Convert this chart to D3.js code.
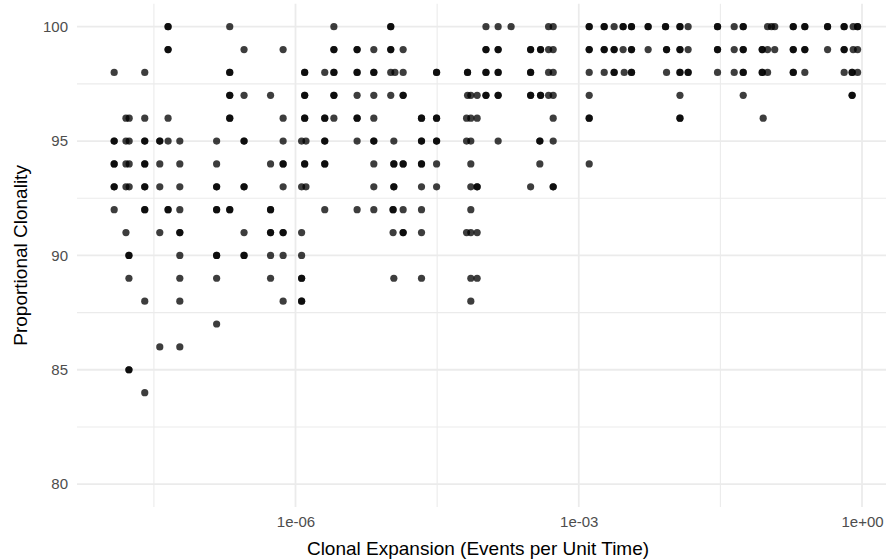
<!DOCTYPE html>
<meta charset="utf-8">
<script src="https://d3js.org/d3.v7.min.js"></script>
<style>
body { margin: 0; background: #fff; }
text { font-family: "Liberation Sans", Arial, Helvetica, sans-serif; }
</style>
<div id="chart"></div>
<script>
// proportional clonality levels and the expansion rates seen at each level
const clonality = [100, 99, 98, 97, 96, 95, 94, 93, 92, 91, 90, 89, 88, 87, 86, 85, 84];
const expansion = [
  [4.47e-8, 4.47e-8, 2.01e-7, 2.55e-6, 1.02e-5, 1.02e-5, 1.04e-4, 1.40e-4, 1.92e-4, 4.79e-4, 5.36e-4, 1.29e-3, 1.29e-3, 1.86e-3, 1.86e-3, 2.37e-3, 2.95e-3, 2.95e-3, 3.62e-3, 3.62e-3, 5.43e-3, 5.43e-3, 8.30e-3, 8.30e-3, 1.18e-2, 1.18e-2, 1.44e-2, 2.95e-2, 2.95e-2, 4.43e-2, 5.52e-2, 5.52e-2, 0.100, 0.110, 0.119, 0.187, 0.187, 0.248, 0.248, 0.432, 0.432, 0.647, 0.647, 0.807, 0.898, 0.898],
  [4.47e-8, 4.47e-8, 2.85e-7, 7.39e-7, 2.55e-6, 2.55e-6, 4.49e-6, 4.49e-6, 6.75e-6, 1.02e-5, 1.02e-5, 1.38e-5, 1.04e-4, 1.04e-4, 1.40e-4, 1.40e-4, 3.09e-4, 3.09e-4, 3.94e-4, 3.94e-4, 4.79e-4, 5.36e-4, 1.29e-3, 1.29e-3, 1.86e-3, 1.86e-3, 2.37e-3, 2.37e-3, 2.95e-3, 3.62e-3, 3.62e-3, 5.43e-3, 8.51e-3, 8.51e-3, 1.18e-2, 1.18e-2, 1.44e-2, 2.95e-2, 2.95e-2, 4.43e-2, 5.52e-2, 5.52e-2, 8.77e-2, 8.77e-2, 0.100, 0.119, 0.187, 0.187, 0.248, 0.248, 0.432, 0.647, 0.647, 0.807, 0.898],
  [1.2e-8, 2.53e-8, 2.01e-7, 2.01e-7, 1.25e-6, 1.25e-6, 2.04e-6, 2.55e-6, 2.55e-6, 4.49e-6, 4.49e-6, 6.75e-6, 6.75e-6, 1.02e-5, 1.13e-5, 1.38e-5, 3.12e-5, 3.12e-5, 6.64e-5, 6.64e-5, 1.04e-4, 1.04e-4, 1.40e-4, 1.40e-4, 3.09e-4, 3.09e-4, 4.79e-4, 5.36e-4, 1.29e-3, 1.86e-3, 2.37e-3, 2.37e-3, 3.03e-3, 3.62e-3, 3.62e-3, 8.51e-3, 1.18e-2, 1.18e-2, 1.44e-2, 1.44e-2, 2.95e-2, 4.43e-2, 5.52e-2, 5.52e-2, 8.77e-2, 8.77e-2, 0.100, 0.187, 0.187, 0.248, 0.647, 0.786, 0.786, 0.898],
  [2.01e-7, 2.01e-7, 2.85e-7, 5.44e-7, 1.25e-6, 1.25e-6, 2.55e-6, 2.55e-6, 4.49e-6, 6.75e-6, 1.02e-5, 1.38e-5, 1.38e-5, 6.64e-5, 7.19e-5, 8.39e-5, 1.04e-4, 1.04e-4, 1.40e-4, 1.40e-4, 3.09e-4, 3.09e-4, 3.94e-4, 3.94e-4, 4.79e-4, 5.36e-4, 1.29e-3, 1.18e-2, 5.52e-2, 0.786, 0.786],
  [1.6e-8, 1.73e-8, 2.53e-8, 4.47e-8, 2.01e-7, 2.01e-7, 7.39e-7, 1.25e-6, 1.25e-6, 2.04e-6, 2.04e-6, 2.55e-6, 4.49e-6, 4.49e-6, 6.75e-6, 2.16e-5, 2.16e-5, 3.12e-5, 3.12e-5, 6.48e-5, 7.19e-5, 8.39e-5, 5.36e-4, 1.29e-3, 1.29e-3, 1.18e-2, 1.18e-2, 8.98e-2],
  [1.2e-8, 1.2e-8, 1.6e-8, 1.73e-8, 2.53e-8, 2.53e-8, 3.65e-8, 3.65e-8, 4.47e-8, 5.95e-8, 1.46e-7, 2.85e-7, 2.85e-7, 7.39e-7, 1.16e-6, 1.29e-6, 2.04e-6, 2.04e-6, 4.49e-6, 6.75e-6, 6.75e-6, 1.10e-5, 2.16e-5, 2.16e-5, 3.12e-5, 3.12e-5, 6.48e-5, 7.19e-5, 1.40e-4, 3.87e-4, 3.87e-4, 5.36e-4],
  [1.2e-8, 1.2e-8, 1.6e-8, 1.73e-8, 2.53e-8, 2.53e-8, 3.65e-8, 5.95e-8, 1.46e-7, 5.44e-7, 7.39e-7, 7.39e-7, 1.25e-6, 1.25e-6, 2.04e-6, 2.04e-6, 6.75e-6, 1.10e-5, 1.10e-5, 1.38e-5, 1.38e-5, 2.16e-5, 2.16e-5, 3.12e-5, 7.19e-5, 3.87e-4, 1.29e-3],
  [1.2e-8, 1.2e-8, 1.6e-8, 1.73e-8, 2.53e-8, 2.53e-8, 3.65e-8, 5.95e-8, 1.46e-7, 1.46e-7, 2.85e-7, 2.85e-7, 7.39e-7, 1.16e-6, 1.29e-6, 6.75e-6, 1.10e-5, 1.10e-5, 2.16e-5, 3.12e-5, 7.19e-5, 8.39e-5, 8.39e-5, 3.09e-4, 5.36e-4, 5.36e-4],
  [1.2e-8, 2.53e-8, 2.53e-8, 4.47e-8, 4.47e-8, 5.95e-8, 1.46e-7, 1.46e-7, 2.01e-7, 2.01e-7, 5.44e-7, 5.44e-7, 2.04e-6, 4.49e-6, 6.75e-6, 1.08e-5, 1.08e-5, 1.38e-5, 2.16e-5, 7.19e-5],
  [1.6e-8, 3.65e-8, 5.95e-8, 5.95e-8, 2.85e-7, 5.44e-7, 5.44e-7, 7.39e-7, 7.39e-7, 1.16e-6, 1.08e-5, 1.38e-5, 1.38e-5, 2.16e-5, 6.48e-5, 7.19e-5, 8.39e-5],
  [1.72e-8, 1.72e-8, 5.95e-8, 1.46e-7, 1.46e-7, 2.85e-7, 2.85e-7, 5.44e-7, 7.39e-7, 1.16e-6],
  [1.72e-8, 5.95e-8, 1.46e-7, 5.44e-7, 1.16e-6, 1.16e-6, 1.10e-5, 2.16e-5, 7.19e-5, 8.39e-5],
  [2.53e-8, 5.95e-8, 7.39e-7, 1.16e-6, 1.16e-6, 7.19e-5],
  [1.46e-7],
  [3.65e-8, 5.95e-8],
  [1.72e-8, 1.72e-8],
  [2.53e-8]
];

const xTicks = [1e-6, 1e-3, 1];
const xTickLabels = ["1e-06", "1e-03", "1e+00"];
const xMinor = [3.162e-8, 3.162e-5, 3.162e-2];
const yTicks = [80, 85, 90, 95, 100];
const yMinor = [82.5, 87.5, 92.5, 97.5];

const W = 886, H = 560;
const panel = {left: 77, right: 879, top: 3.8, bottom: 507};

var points = [];
clonality.forEach(function(c, i) {
  expansion[i].forEach(function(e) { points.push({x: e, y: c}); });
});

// log x scale, left edge padded 5% of the data span in log space
var lx = d3.extent(points, d => Math.log10(d.x));
var pad = (lx[1] - lx[0]) * 0.05;
var x = d3.scaleLog()
  .domain([Math.pow(10, lx[0] - pad), Math.pow(10, 0.18)])
  .range([panel.left, panel.right]);

var y = d3.scaleLinear()
  .domain([79, 101])
  .range([panel.bottom, panel.top]);

var svg = d3.select("#chart").append("svg")
  .attr("width", W)
  .attr("height", H);

var grid = svg.append("g");
// minor grid (horizontal lines run to the picture edge)
grid.selectAll(".ymin").data(yMinor).enter().append("line")
  .attr("x1", panel.left).attr("x2", W)
  .attr("y1", d => y(d)).attr("y2", d => y(d))
  .attr("stroke", "#ebebeb").attr("stroke-width", 1.1);
grid.selectAll(".xmin").data(xMinor).enter().append("line")
  .attr("y1", panel.top).attr("y2", panel.bottom)
  .attr("x1", d => x(d)).attr("x2", d => x(d))
  .attr("stroke", "#ebebeb").attr("stroke-width", 1.1);
// major grid
grid.selectAll(".ymaj").data(yTicks).enter().append("line")
  .attr("x1", panel.left).attr("x2", W)
  .attr("y1", d => y(d)).attr("y2", d => y(d))
  .attr("stroke", "#ebebeb").attr("stroke-width", 1.8);
grid.selectAll(".xmaj").data(xTicks).enter().append("line")
  .attr("y1", panel.top).attr("y2", panel.bottom)
  .attr("x1", d => x(d)).attr("x2", d => x(d))
  .attr("stroke", "#ebebeb").attr("stroke-width", 1.8);

// points
svg.append("g").selectAll("circle")
  .data(points)
  .enter().append("circle")
  .attr("cx", d => x(d.x))
  .attr("cy", d => y(d.y))
  .attr("r", 3.6)
  .attr("fill", "#000")
  .attr("fill-opacity", 0.76);

// axes, labels only
svg.append("g")
  .attr("transform", `translate(0,${panel.bottom})`)
  .call(d3.axisBottom(x).tickValues(xTicks).tickFormat((d, i) => xTickLabels[i]).tickSize(0).tickPadding(9));
svg.append("g")
  .attr("transform", `translate(${panel.left},0)`)
  .call(d3.axisLeft(y).tickValues(yTicks).tickSize(0).tickPadding(9));
svg.selectAll(".domain").remove();
svg.selectAll(".tick text")
  .attr("fill", "#4d4d4d")
  .style("font-size", "15px")
  .style("font-family", '"Liberation Sans", Arial, Helvetica, sans-serif');

svg.append("text")
  .attr("x", (panel.left + panel.right) / 2)
  .attr("y", 555)
  .attr("text-anchor", "middle")
  .style("font-size", "19px")
  .text("Clonal Expansion (Events per Unit Time)");

svg.append("text")
  .attr("transform", `translate(27,${(panel.top + panel.bottom) / 2}) rotate(-90)`)
  .attr("text-anchor", "middle")
  .style("font-size", "19px")
  .text("Proportional Clonality");
</script>
